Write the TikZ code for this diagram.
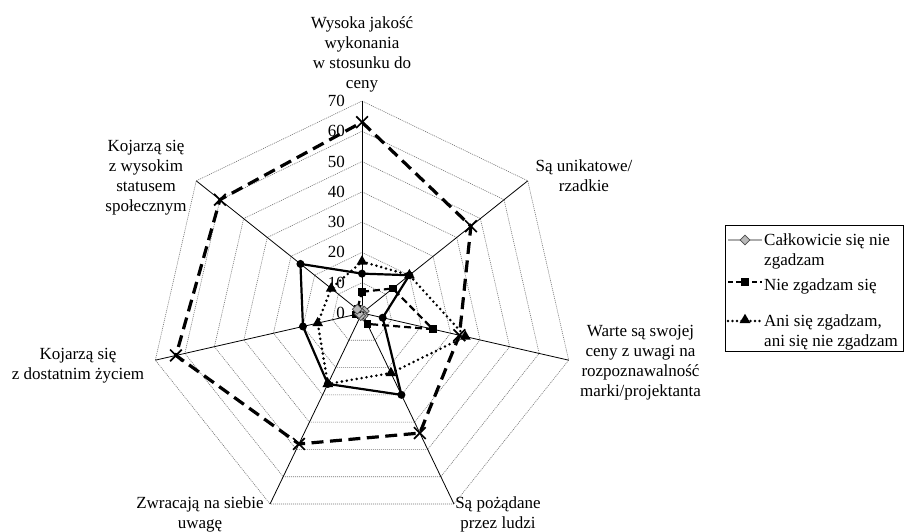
\documentclass[tikz,border=0pt]{standalone}
\usepackage{fontspec}
\setmainfont{Liberation Serif}
\usetikzlibrary{shapes.geometric,shapes.misc}
\newcommand{\radpt}[2]{({362+3.0286*(#2)*cos(90-51.42857*(#1))},{313-3.0286*(#2)*sin(90-51.42857*(#1))})}
\begin{document}
\begin{tikzpicture}[x=1pt,y=-1pt,
  font=\fontsize{17}{20}\selectfont,
  gridring/.style={draw=gray!90!black, line width=0.6pt, dash pattern=on 1pt off 1pt},
  axisline/.style={draw=black, line width=0.8pt},
  lbl/.style={align=center, inner sep=0pt, text=black},
  aline/.style={draw=gray!65, line width=2pt},
  bline/.style={draw=black, line width=2.2pt, dash pattern=on 7pt off 4pt},
  cline/.style={draw=black, line width=2.8pt, dash pattern=on 0pt off 5pt, line cap=round},
  dline/.style={draw=black, line width=2.2pt},
  eline/.style={draw=black, line width=3.2pt, dash pattern=on 12pt off 6.5pt},
  amark/.style={diamond, draw=gray!60!black, fill=gray!55, line width=0.7pt, minimum size=10pt, inner sep=0pt},
  bmark/.style={rectangle, fill=black, minimum size=7.5pt, inner sep=0pt},
  cmark/.style={regular polygon, regular polygon sides=3, fill=black, minimum size=12.5pt, inner sep=0pt},
  dmark/.style={circle, fill=black, minimum size=8pt, inner sep=0pt},
  emark/.style={cross out, draw=black, line width=1.7pt, minimum size=10pt, inner sep=0pt}
]
\fill[white] (0,0) rectangle (904,532);
\useasboundingbox (0,0) rectangle (904,532);

% grid rings
\foreach \v in {10,20,...,70}{
  \draw[gridring] \radpt{0}{\v} -- \radpt{1}{\v} -- \radpt{2}{\v} -- \radpt{3}{\v} -- \radpt{4}{\v} -- \radpt{5}{\v} -- \radpt{6}{\v} -- cycle;
}
% axes
\coordinate (O) at (362,313);
\foreach \k in {0,...,6}{
  \path \radpt{\k}{70} coordinate (V\k);
  \draw[axisline] (O) -- (V\k);
}
% tick labels
\foreach \v in {0,10,...,70}{
  \node[anchor=east, inner sep=0pt] (t\v) at (345,{313-3.0286*\v}) {\v};
}

% axis labels
\node[lbl, anchor=north] (L0) at (362,16) {Wysoka jakość\\wykonania\\w stosunku do\\ceny};
\node[lbl, anchor=north] (L1) at (584,160) {Są unikatowe/\\rzadkie};
\node[lbl, anchor=north] (L2) at (640.5,325.5) {Warte są swojej\\ceny z uwagi na\\rozpoznawalność\\marki/projektanta};
\node[lbl, anchor=north] (L3) at (498,496) {Są pożądane\\przez ludzi};
\node[lbl, anchor=north] (L4) at (200,496.5) {Zwracają na siebie\\uwagę};
\node[lbl, anchor=north] (L5) at (78,348) {Kojarzą się\\z dostatnim życiem};
\node[lbl, anchor=north] (L6) at (146,140) {Kojarzą się\\z wysokim\\statusem\\społecznym};

% data points
\foreach \v [count=\i from 0] in {1,1,0,1,1,1,2}{\path \radpt{\i}{\v} coordinate (A\i);}
\foreach \v [count=\i from 0] in {7,13,24,4,1,2,2}{\path \radpt{\i}{\v} coordinate (B\i);}
\foreach \v [count=\i from 0] in {17,20,35,22,26,15,13}{\path \radpt{\i}{\v} coordinate (C\i);}
\foreach \v [count=\i from 0] in {13,20,7,30,26,20,26}{\path \radpt{\i}{\v} coordinate (D\i);}
\foreach \v [count=\i from 0] in {63,46,33,44,48,63,60}{\path \radpt{\i}{\v} coordinate (E\i);}

% series lines
\draw[aline] (A0) -- (A1) -- (A2) -- (A3) -- (A4) -- (A5) -- (A6) -- cycle;
\draw[bline] (B0) -- (B1) -- (B2) -- (B3) -- (B4) -- (B5) -- (B6) -- cycle;
\draw[dline] (D0) -- (D1) -- (D2) -- (D3) -- (D4) -- (D5) -- (D6) -- cycle;
\draw[cline] (C0) -- (C1) -- (C2) -- (C3) -- (C4) -- (C5) -- (C6) -- cycle;
\draw[eline] (E0) -- (E1) -- (E2) -- (E3) -- (E4) -- (E5) -- (E6) -- cycle;

% markers
\foreach \i in {0,...,6}{
  \node[dmark] (mD\i) at (D\i) {};
  \node[bmark] (mB\i) at (B\i) {};
  \node[amark] (mA\i) at (A\i) {};
  \node[cmark] (mC\i) at (C\i) {};
  \node[emark] (mE\i) at (E\i) {};
}

% legend
\node[draw=black, line width=0.7pt, anchor=north west, minimum width=178pt, minimum height=126pt, inner sep=0pt] (legend) at (724.5,225) {};
\coordinate (la1) at (728,240); \coordinate (la2) at (762,240);
\coordinate (lb1) at (728,282); \coordinate (lb2) at (762,282);
\coordinate (lc1) at (728,321); \coordinate (lc2) at (762,321);
\draw[aline] (la1) -- (la2);
\draw[bline, dash pattern=on 5pt off 3pt] (lb1) -- (lb2);
\draw[cline, dash pattern=on 0pt off 4.5pt] (lc1) -- (lc2);
\node[amark] (lma) at (745,240) {};
\node[bmark] (lmb) at (745,282) {};
\node[cmark] (lmc) at (745,320) {};
\node[anchor=base west, inner sep=0pt, align=left] (lta) at (764,265) {Całkowicie się nie\\zgadzam};
\node[anchor=base west, inner sep=0pt] (ltb) at (764,290) {Nie zgadzam się};
\node[anchor=base west, inner sep=0pt, align=left] (ltc) at (764,346) {Ani się zgadzam,\\ani się nie zgadzam};
\end{tikzpicture}
\end{document}
